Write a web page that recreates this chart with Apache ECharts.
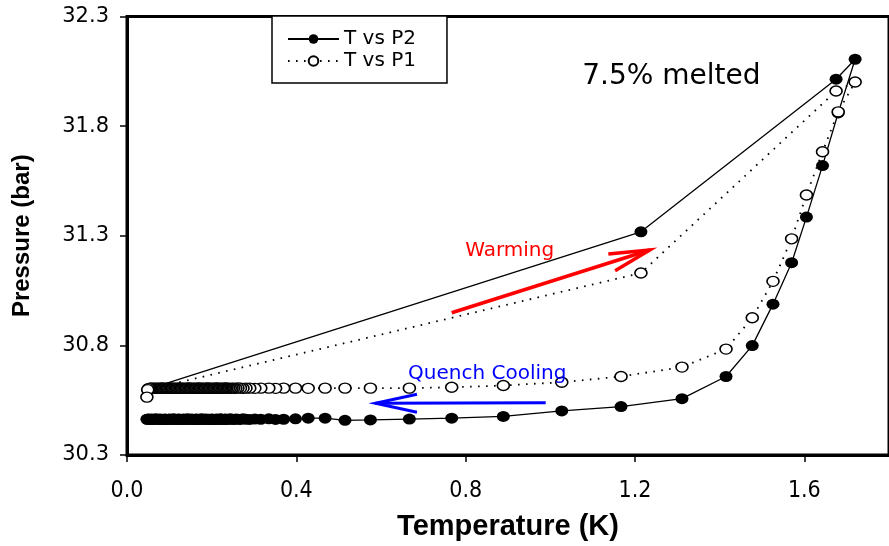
<!DOCTYPE html>
<html>
<head>
<meta charset="utf-8">
<script src="https://cdn.jsdelivr.net/npm/echarts@6/dist/echarts.min.js"></script>
<style>
  html, body { margin: 0; padding: 0; background: #fff; }
  #chart { width: 889px; height: 546px; }
</style>
</head>
<body>
<div id="chart"></div>
<script>
// Axis ticks
const xTicks = [0.0, 0.4, 0.8, 1.2, 1.6];
const yTicks = [30.3, 30.8, 31.3, 31.8, 32.3];

// Warming run: temperature (K) and the two pressure gauges (bar)
const warmT  = [0.050, 1.214, 1.675, 1.720];
const warmP2 = [30.600, 31.318, 32.014, 32.105];
const warmP1 = [30.598, 31.130, 31.960, 32.001];

// Quench cooling run back down to base temperature
const coolT = [
  1.680, 1.643, 1.605, 1.570, 1.526, 1.477, 1.415, 1.311, 1.167, 1.027,
  0.889, 0.767, 0.667, 0.575, 0.515, 0.468, 0.428, 0.398, 0.370, 0.351,
  0.335, 0.316, 0.302, 0.290, 0.281, 0.274, 0.268, 0.262, 0.257, 0.252,
  0.248, 0.244, 0.240, 0.236, 0.233, 0.230, 0.227, 0.224, 0.221, 0.218,
  0.215, 0.212, 0.209, 0.206, 0.203, 0.200, 0.197, 0.194, 0.191, 0.188,
  0.185, 0.182, 0.179, 0.176, 0.173, 0.170, 0.167, 0.164, 0.161, 0.158,
  0.155, 0.152, 0.149, 0.146, 0.143, 0.140, 0.137, 0.134, 0.131, 0.128,
  0.125, 0.122, 0.119, 0.116, 0.113, 0.110, 0.107, 0.104, 0.101, 0.098,
  0.095, 0.092, 0.089, 0.086, 0.083, 0.080, 0.077, 0.074, 0.071, 0.068,
  0.065, 0.062, 0.059, 0.057, 0.055, 0.053, 0.051, 0.049, 0.047
];
const coolP2 = [
  31.860, 31.620, 31.385, 31.177, 30.988, 30.799, 30.658, 30.557, 30.521, 30.501,
  30.476, 30.468, 30.464, 30.460, 30.458, 30.468, 30.468, 30.465, 30.463, 30.462,
  30.465, 30.463, 30.464, 30.462, 30.463, 30.465, 30.462, 30.463, 30.464, 30.462,
  30.463, 30.465, 30.463, 30.462, 30.464, 30.463, 30.462, 30.463, 30.465, 30.463,
  30.462, 30.464, 30.463, 30.462, 30.463, 30.464, 30.462, 30.463, 30.463, 30.463,
  30.464, 30.462, 30.463, 30.465, 30.463, 30.462, 30.463, 30.464, 30.463, 30.462,
  30.463, 30.464, 30.462, 30.463, 30.465, 30.463, 30.462, 30.464, 30.463, 30.462,
  30.463, 30.464, 30.463, 30.462, 30.463, 30.465, 30.463, 30.462, 30.464, 30.463,
  30.462, 30.463, 30.464, 30.462, 30.463, 30.463, 30.464, 30.462, 30.463, 30.465,
  30.463, 30.462, 30.464, 30.463, 30.462, 30.463, 30.464, 30.463, 30.463
];
const coolP1 = [
  31.865, 31.683, 31.486, 31.286, 31.092, 30.926, 30.783, 30.701, 30.658, 30.632,
  30.617, 30.609, 30.605, 30.605, 30.605, 30.605, 30.604, 30.605, 30.605, 30.604,
  30.605, 30.605, 30.604, 30.605, 30.605, 30.604, 30.605, 30.606, 30.604, 30.605,
  30.605, 30.604, 30.605, 30.605, 30.606, 30.605, 30.604, 30.605, 30.605, 30.604,
  30.605, 30.606, 30.605, 30.604, 30.605, 30.605, 30.604, 30.605, 30.606, 30.605,
  30.604, 30.605, 30.605, 30.604, 30.605, 30.606, 30.605, 30.604, 30.605, 30.605,
  30.604, 30.605, 30.605, 30.606, 30.605, 30.604, 30.605, 30.605, 30.604, 30.605,
  30.606, 30.605, 30.604, 30.605, 30.605, 30.604, 30.605, 30.606, 30.605, 30.604,
  30.605, 30.605, 30.604, 30.605, 30.606, 30.605, 30.604, 30.605, 30.605, 30.604,
  30.605, 30.605, 30.604, 30.605, 30.605, 30.604, 30.603, 30.598, 30.564
];

const seriesNames = ['T vs P2', 'T vs P1'];

function pairs(t, p) { return t.map((v, i) => [v, p[i]]); }
const dataP2 = pairs(warmT.concat(coolT), warmP2.concat(coolP2));
const dataP1 = pairs(warmT.concat(coolT), warmP1.concat(coolP1));

const SANS = "'DejaVu Sans', 'Liberation Sans', Arial, sans-serif";
const ARIAL = "'Liberation Sans', Arial, sans-serif";
const NARROW = "'Liberation Sans Narrow', 'DejaVu Sans Condensed', 'Liberation Sans', sans-serif";

const chart = echarts.init(document.getElementById('chart'), null, { renderer: 'canvas' });

chart.setOption({
  animation: false,
  backgroundColor: '#fff',
  grid: {
    left: 127, top: 16.5, bottom: 89, right: -7.5,
    show: true, borderColor: '#000', borderWidth: 3, backgroundColor: 'transparent'
  },
  xAxis: {
    type: 'value', min: 0, max: 1.8,
    splitLine: { show: false },
    axisLine: { show: true, onZero: false, lineStyle: { color: '#000', width: 3 } },
    axisTick: { show: true, customValues: xTicks, length: 7, lineStyle: { color: '#000', width: 1.5 } },
    axisLabel: {
      customValues: xTicks, margin: 25, color: '#000',
      fontSize: 23, fontFamily: NARROW,
      formatter: v => v.toFixed(1)
    },
    name: 'Temperature (K)', nameLocation: 'middle', nameGap: 57,
    nameTextStyle: { color: '#000', fontSize: 29, fontWeight: 'bold', fontFamily: ARIAL }
  },
  yAxis: {
    type: 'value', min: 30.3, max: 32.3,
    splitLine: { show: false },
    axisLine: { show: true, onZero: false, lineStyle: { color: '#000', width: 3 } },
    axisTick: { show: true, customValues: yTicks, length: 7, lineStyle: { color: '#000', width: 1.5 } },
    axisLabel: {
      customValues: yTicks, margin: 18, color: '#000',
      fontSize: 21, fontFamily: SANS,
      formatter: v => v.toFixed(1)
    },
    name: 'Pressure (bar)', nameLocation: 'middle', nameGap: 93, nameRotate: 90,
    nameTextStyle: { color: '#000', fontSize: 24, fontWeight: 'bold', fontFamily: ARIAL }
  },
  legend: {
    data: seriesNames,
    orient: 'vertical', left: 272, top: 16,
    padding: [13, 31, 12, 15],
    itemWidth: 51, itemHeight: 12, itemGap: 2,
    borderColor: '#000', borderWidth: 1.5, borderRadius: 0,
    backgroundColor: '#fff',
    textStyle: { color: '#000', fontSize: 20, fontFamily: SANS }
  },
  series: [
    {
      name: seriesNames[0], type: 'line', data: dataP2,
      symbol: 'circle', symbolSize: [13, 11], showAllSymbol: true,
      lineStyle: { color: '#000', width: 1.3 },
      itemStyle: { color: '#000', borderColor: '#000', borderWidth: 0 },
      z: 2
    },
    {
      name: seriesNames[1], type: 'line', data: dataP1,
      symbol: 'circle', symbolSize: [12, 10], showAllSymbol: true,
      lineStyle: { color: '#000', width: 1.8, type: [1.6, 6.4] },
      itemStyle: { color: '#fff', borderColor: '#000', borderWidth: 1.5 },
      z: 3
    }
  ]
});

// Annotations placed in data units (temperature, pressure)
const notes = [
  { text: '7.5% melted', at: [1.286, 32.025], color: '#000', size: 28 },
  { text: 'Warming', at: [0.904, 31.232], color: '#ff0000', size: 20 },
  { text: 'Quench Cooling', at: [0.851, 30.672], color: '#0000ff', size: 20 }
];
const arrows = [
  { tail: [0.767, 30.949], tip: [1.235, 31.235], wings: [[1.137, 31.217], [1.153, 31.140]], color: '#ff0000', width: 3.5 },
  { tail: [0.989, 30.538], tip: [0.587, 30.536], wings: [[0.685, 30.577], [0.685, 30.495]], color: '#0000ff', width: 3 }
];

const px = p => chart.convertToPixel({ gridIndex: 0 }, p);
const elements = [];
notes.forEach(n => {
  const [x, y] = px(n.at);
  elements.push({
    type: 'text', x, y, z: 10,
    style: {
      text: n.text, fill: n.color, fontSize: n.size, fontFamily: SANS,
      textAlign: 'center', textVerticalAlign: 'middle'
    }
  });
});
arrows.forEach(a => {
  const tip = px(a.tip);
  elements.push({
    type: 'polyline', z: 10,
    shape: { points: [px(a.tail), tip] },
    style: { stroke: a.color, lineWidth: a.width, fill: null }
  });
  elements.push({
    type: 'polyline', z: 10,
    shape: { points: [px(a.wings[0]), tip, px(a.wings[1])] },
    style: { stroke: a.color, lineWidth: a.width, fill: null, lineJoin: 'miter' }
  });
});
chart.setOption({ graphic: elements });
</script>
</body>
</html>
